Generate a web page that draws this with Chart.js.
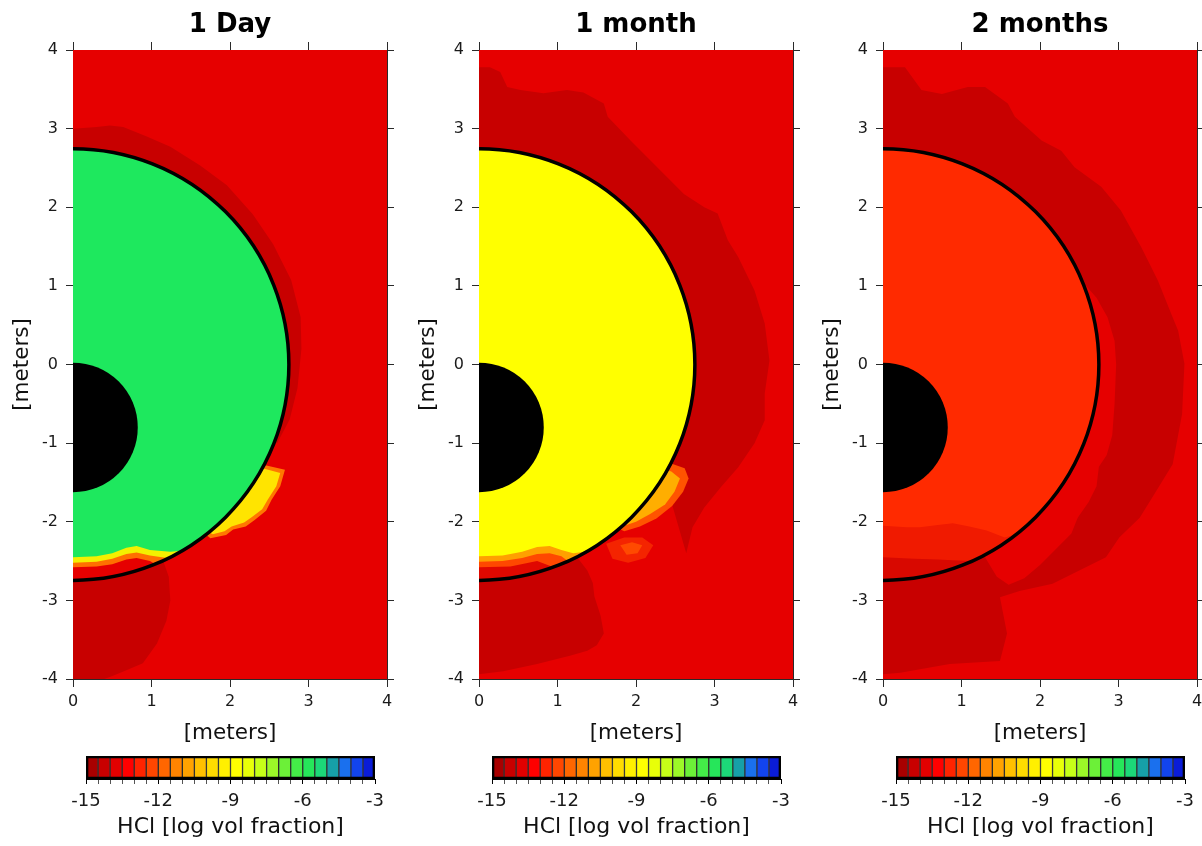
<!DOCTYPE html>
<html>
<head>
<meta charset="utf-8">
<title>HCl volume fraction around the vessel</title>
<script src="https://cdn.jsdelivr.net/npm/chart.js@4.4.1/dist/chart.umd.min.js"></script>
<style>
  html, body { margin: 0; padding: 0; background: #fff; width: 1202px; height: 846px; overflow: hidden; position: relative; }
  canvas { position: absolute; }
</style>
</head>
<body>
<script>
// ---------- values ----------
const panelTitles = ['1 Day', '1 month', '2 months'];
const xTicks = [0, 1, 2, 3, 4];
const yTicks = [-4, -3, -2, -1, 0, 1, 2, 3, 4];
const colorTicks = [-15, -12, -9, -6, -3];
const levelEdges = [-15, -14.5, -14, -13.5, -13, -12.5, -12, -11.5, -11, -10.5, -10, -9.5,
                    -9, -8.5, -8, -7.5, -7, -6.5, -6, -5.5, -5, -4.5, -4, -3.5, -3];
const levelColors = ['#a80000', '#c80000', '#e20000', '#ff0000', '#ff2400', '#ff4600',
                     '#ff6600', '#ff8400', '#ffa200', '#ffc000', '#ffdc00', '#fff000',
                     '#ffff00', '#e8ff08', '#c6ff18', '#9cf828', '#6cf038', '#44ec48',
                     '#26e65a', '#1cd878', '#16a0a8', '#1a70ee', '#1244ee', '#0a1cd8'];
const axisLabel = '[meters]';
const colorbarLabel = 'HCl [log vol fraction]';

// vessel geometry, meters
const wallRadius = 2.75;
const coreCenterY = -0.8;
const coreRadius = 0.825;

// contour outlines, [x, y] in meters
const plotFrame = [[0, -4], [4, -4], [4, 4], [0, 4]];

// 1 day
const dayDarkUpper = [[0, 0], [0, 3.0], [0.3, 3.02], [0.47, 3.04], [0.64, 3.02], [0.94, 2.9], [1.24, 2.77],
  [1.62, 2.53], [1.96, 2.28], [2.29, 1.91], [2.55, 1.53], [2.78, 1.07], [2.9, 0.6], [2.91, 0.2],
  [2.86, -0.3], [2.76, -0.7], [2.6, -1.0], [2.0, -0.8]];
const dayDarkLower = [[0, -2.5], [1.15, -2.5], [1.22, -2.7], [1.24, -3.0], [1.19, -3.26], [1.07, -3.55],
  [0.89, -3.8], [0.68, -3.89], [0.51, -3.96], [0.4, -4], [0, -4]];
const dayLobeOuter = [[2.2, -1.2], [2.45, -1.28], [2.7, -1.34], [2.64, -1.55], [2.53, -1.72], [2.46, -1.86],
  [2.31, -1.98], [2.2, -2.06], [2.04, -2.1], [1.95, -2.17], [1.75, -2.21], [1.5, -2.0]];
const dayLobeInner = [[2.25, -1.3], [2.45, -1.33], [2.64, -1.38], [2.59, -1.55], [2.48, -1.72], [2.41, -1.84],
  [2.28, -1.94], [2.18, -2.01], [2.02, -2.06], [1.93, -2.12], [1.78, -2.16], [1.5, -2.0]];
const dayGreenEdge = [[0, -2.45], [0.3, -2.44], [0.5, -2.4], [0.68, -2.33], [0.81, -2.31], [0.98, -2.36],
  [1.24, -2.38], [1.39, -2.37]];
const dayYellowEdge = [[0, -2.52], [0.3, -2.51], [0.5, -2.47], [0.68, -2.41], [0.81, -2.39], [0.98, -2.43],
  [1.22, -2.465]];
const dayOrangeEdge = [[0, -2.58], [0.3, -2.57], [0.5, -2.54], [0.68, -2.48], [0.81, -2.46], [0.98, -2.5],
  [1.05, -2.54]];

// 1 month
const monthDarkBand = [[0, 0], [0, 3.78], [0.14, 3.78], [0.27, 3.72], [0.36, 3.53], [0.53, 3.49], [0.82, 3.45],
  [1.12, 3.49], [1.33, 3.46], [1.59, 3.32], [1.64, 3.15], [1.93, 2.85], [2.27, 2.51], [2.61, 2.17],
  [2.87, 2.0], [3.04, 1.92], [3.17, 1.58], [3.3, 1.37], [3.51, 0.94], [3.64, 0.52], [3.7, 0.05],
  [3.64, -0.37], [3.64, -0.71], [3.51, -1.0], [3.3, -1.31], [3.08, -1.56], [2.87, -1.82], [2.72, -2.07],
  [2.64, -2.4], [2.45, -1.75], [2.2, -1.45]];
const monthDarkLower = [[0, -2.5], [1.25, -2.45], [1.38, -2.62], [1.45, -2.78], [1.47, -2.95], [1.55, -3.2],
  [1.59, -3.42], [1.5, -3.57], [1.38, -3.64], [1.17, -3.7], [0.74, -3.81], [0.31, -3.9], [0, -3.94]];
const monthBlobOuter = [[1.62, -2.28], [1.85, -2.2], [2.08, -2.2], [2.22, -2.3], [2.12, -2.46], [1.9, -2.52], [1.7, -2.47]];
const monthBlobInner = [[1.8, -2.3], [1.95, -2.26], [2.08, -2.3], [2.02, -2.4], [1.88, -2.42]];
const monthLobeOuter = [[2.2, -1.2], [2.42, -1.25], [2.62, -1.32], [2.67, -1.45], [2.6, -1.62], [2.46, -1.8],
  [2.26, -1.96], [2.05, -2.06], [1.85, -2.12], [1.6, -2.0]];
const monthLobeInner = [[2.25, -1.3], [2.45, -1.36], [2.56, -1.45], [2.49, -1.62], [2.37, -1.78], [2.18, -1.9],
  [2.0, -2.0], [1.85, -2.05], [1.6, -2.0]];
const monthYellowEdge = [[0, -2.44], [0.3, -2.43], [0.55, -2.38], [0.74, -2.32], [0.9, -2.31], [1.05, -2.36],
  [1.2, -2.4], [1.35, -2.38], [1.45, -2.33]];
const monthOrangeEdge = [[0, -2.51], [0.3, -2.5], [0.55, -2.46], [0.74, -2.41], [0.9, -2.4], [1.05, -2.44],
  [1.13, -2.5]];
const monthRedEdge = [[0, -2.58], [0.4, -2.57], [0.74, -2.5], [0.95, -2.58]];

// 2 months
const twoDarkBand = [[0, 0], [0, 3.78], [0.28, 3.78], [0.49, 3.49], [0.75, 3.44], [1.08, 3.53], [1.3, 3.53],
  [1.59, 3.32], [1.68, 3.15], [2.02, 2.85], [2.27, 2.72], [2.44, 2.51], [2.78, 2.26], [3.03, 1.96],
  [3.29, 1.49], [3.5, 1.07], [3.67, 0.65], [3.76, 0.43], [3.84, 0.01], [3.81, -0.63], [3.69, -1.27],
  [3.43, -1.69], [3.27, -1.95], [3.01, -2.2], [2.84, -2.45], [2.5, -2.62], [2.16, -2.79], [1.74, -2.88],
  [1.49, -2.96], [1.58, -3.42], [1.49, -3.77], [0.85, -3.81], [0.22, -3.92], [0, -3.94]];
const twoGapStrip = [[2.5, 1.1], [2.72, 0.85], [2.86, 0.6], [2.95, 0.3], [2.97, 0], [2.95, -0.5], [2.92, -0.9],
  [2.85, -1.15], [2.75, -1.3], [2.72, -1.55], [2.62, -1.75], [2.48, -1.95], [2.4, -2.15], [2.2, -2.35],
  [2.0, -2.55], [1.8, -2.72], [1.6, -2.8], [1.45, -2.7], [1.3, -2.45], [0, 0]];
const twoTopEdge = [[0, -2.05], [0.3, -2.07], [0.47, -2.07], [0.7, -2.04], [0.89, -2.02], [1.1, -2.06],
  [1.32, -2.11], [1.55, -2.2], [1.7, -2.16]];
const twoMidEdge = [[0, -2.45], [0.4, -2.47], [0.7, -2.48], [0.89, -2.49], [1.13, -2.5]];

// ---------- drawing ----------
Chart.defaults.font.family = "'DejaVu Sans', sans-serif";
Chart.defaults.color = '#161616';

const RED = '#e60000';
const DARK = '#c80000';
const INK = '#2a2a2a';

// region above a profile line, closed along the vessel wall up to its top
function aboveProfile(profile) {
  const pts = profile.slice();
  const last = profile[profile.length - 1];
  const a0 = Math.atan2(last[1], last[0]);
  for (let a = a0; a < Math.PI / 2; a += Math.PI / 120) {
    pts.push([wallRadius * Math.cos(a), wallRadius * Math.sin(a)]);
  }
  pts.push([0, wallRadius]);
  return pts;
}

function poly(pts, color) {
  return {
    type: 'line', showLine: true,
    data: pts.map(p => ({ x: p[0], y: p[1] })),
    backgroundColor: color, borderWidth: 0, pointRadius: 0, tension: 0, fill: 'shape'
  };
}

function pxRadius(chart, r) {
  const s = chart.scales.x;
  return s.getPixelForValue(r) - s.getPixelForValue(0);
}

function disc(cy, r, fill, stroke, width) {
  return {
    type: 'scatter',
    data: [{ x: 0, y: cy }],
    pointRadius: ctx => pxRadius(ctx.chart, r),
    pointBackgroundColor: fill,
    pointBorderColor: stroke || 'rgba(0,0,0,0)',
    pointBorderWidth: width || 0,
    clip: 0
  };
}

const panels = [
  [
    poly(plotFrame, RED), poly(dayDarkUpper, DARK), poly(dayDarkLower, DARK),
    poly(dayLobeOuter, '#ff7800'), poly(dayLobeInner, '#ffe400'),
    disc(0, wallRadius, RED),
    poly(aboveProfile(dayOrangeEdge), '#ff7000'),
    poly(aboveProfile(dayYellowEdge), '#f4f000'),
    poly(aboveProfile(dayGreenEdge), '#1ee85e'),
    disc(0, wallRadius, 'rgba(0,0,0,0)', '#000', 3.5),
    disc(coreCenterY, coreRadius, '#000')
  ],
  [
    poly(plotFrame, RED), poly(monthDarkBand, DARK), poly(monthDarkLower, DARK),
    poly(monthBlobOuter, '#f42400'), poly(monthBlobInner, '#ff4a00'),
    poly(monthLobeOuter, '#ff5400'), poly(monthLobeInner, '#ffae00'),
    disc(0, wallRadius, '#e00800'),
    poly(aboveProfile(monthRedEdge), '#ff4800'),
    poly(aboveProfile(monthOrangeEdge), '#ffa000'),
    poly(aboveProfile(monthYellowEdge), '#ffff00'),
    disc(0, wallRadius, 'rgba(0,0,0,0)', '#000', 3.5),
    disc(coreCenterY, coreRadius, '#000')
  ],
  [
    poly(plotFrame, RED), poly(twoDarkBand, DARK), poly(twoGapStrip, RED),
    disc(0, wallRadius, '#d80800'),
    poly(aboveProfile(twoMidEdge), '#f01a00'),
    poly(aboveProfile(twoTopEdge), '#ff2a00'),
    disc(0, wallRadius, 'rgba(0,0,0,0)', '#000', 3.5),
    disc(coreCenterY, coreRadius, '#000')
  ]
];

const plotLefts = [73, 479, 883];
const PLOT_W = 314;

function makeCanvas(left, top, w, h) {
  const c = document.createElement('canvas');
  c.width = w; c.height = h;
  c.style.left = left + 'px'; c.style.top = top + 'px';
  c.style.width = w + 'px'; c.style.height = h + 'px';
  document.body.appendChild(c);
  return c;
}

function frameAxis(position, values, extra) {
  const horizontal = position === 'top' || position === 'bottom';
  return Object.assign({
    type: 'linear', axis: horizontal ? 'x' : 'y', position,
    min: values[0], max: values[values.length - 1],
    afterBuildTicks: s => { s.ticks = values.map(v => ({ value: v })); },
    grid: { drawOnChartArea: false, drawTicks: true, tickLength: horizontal ? 8 : 7, color: INK, lineWidth: 1 },
    border: { display: true, color: INK, width: 1 },
    ticks: { display: false }
  }, extra);
}

function buildPanel(i) {
  const left = plotLefts[i] - 73;
  const canvas = makeCanvas(left, 0, 420, 760);
  const layers = panels[i];
  layers.forEach((d, k) => { d.order = layers.length - k; });
  new Chart(canvas, {
    type: 'scatter',
    data: { datasets: layers },
    options: {
      responsive: false, animation: false, devicePixelRatio: 1, events: [],
      layout: { autoPadding: false, padding: { left: 0, right: 420 - 73 - PLOT_W - 8, top: 0, bottom: 0 } },
      plugins: {
        legend: { display: false }, tooltip: { enabled: false },
        title: {
          display: true, fullSize: false, text: panelTitles[i], color: '#000',
          font: { size: 26, weight: 'bold', lineHeight: 1 },
          padding: { top: 12, bottom: 5 }
        }
      },
      scales: {
        x: frameAxis('bottom', xTicks, {
          afterFit: s => { s.height = 81; },
          ticks: { display: true, padding: 5, autoSkip: false, maxRotation: 0, font: { size: 16 }, color: '#1a1a1a' },
          title: { display: true, text: axisLabel, color: '#111', font: { size: 21.5, lineHeight: 1 }, padding: { top: 0, bottom: 16 } }
        }),
        xTop: frameAxis('top', xTicks, { afterFit: s => { s.height = 7; } }),
        y: frameAxis('left', yTicks, {
          afterFit: s => { s.width = 73; },
          ticks: { display: true, padding: 8, autoSkip: false, font: { size: 16 }, color: '#1a1a1a' },
          title: { display: true, text: axisLabel, color: '#111', font: { size: 21.5, lineHeight: 1 }, padding: { top: 12, bottom: 12 } }
        }),
        yRight: frameAxis('right', yTicks, { afterFit: s => { s.width = 8; } })
      }
    }
  });
}

function buildColorbar(i) {
  const barLeft = plotLefts[i] + 13;
  const canvas = makeCanvas(barLeft - 40, 745, 369, 101);
  const common = { grouped: false, barPercentage: 1, categoryPercentage: 1, borderSkipped: false };
  const datasets = [Object.assign({
    data: [[levelEdges[0], levelEdges[levelEdges.length - 1]]],
    backgroundColor: 'rgba(0,0,0,0)', borderColor: '#000', borderWidth: 2
  }, common)];
  levelColors.forEach((c, k) => {
    datasets.push(Object.assign({
      data: [[levelEdges[k], levelEdges[k + 1]]],
      backgroundColor: c, borderColor: 'rgba(20,20,20,0.85)', borderWidth: 1
    }, common));
  });
  new Chart(canvas, {
    type: 'bar',
    data: { labels: [colorbarLabel], datasets },
    options: {
      indexAxis: 'y',
      responsive: false, animation: false, devicePixelRatio: 1, events: [],
      layout: { autoPadding: false, padding: { left: 40, right: 40, top: 11, bottom: 0 } },
      plugins: { legend: { display: false }, tooltip: { enabled: false } },
      scales: {
        y: { display: false },
        x: {
          type: 'linear', min: levelEdges[0], max: levelEdges[levelEdges.length - 1],
          afterBuildTicks: s => { s.ticks = levelEdges.map(v => ({ value: v })); },
          afterFit: s => { s.height = 67; },
          grid: {
            drawOnChartArea: false, drawTicks: true, tickLength: 5, lineWidth: 1,
            color: ctx => (ctx.tick && colorTicks.includes(ctx.tick.value)) ? '#000' : '#555'
          },
          border: { display: true, color: '#000', width: 1 },
          ticks: {
            autoSkip: false, maxRotation: 0, padding: 7, font: { size: 18 }, color: '#1a1a1a',
            callback: v => colorTicks.includes(v) ? String(v) : ''
          },
          title: { display: true, text: colorbarLabel, color: '#111', font: { size: 22, lineHeight: 1 }, padding: { top: 0, bottom: 8 } }
        }
      }
    }
  });
}

for (let i = 0; i < 3; i++) { buildPanel(i); buildColorbar(i); }
</script>
</body>
</html>
